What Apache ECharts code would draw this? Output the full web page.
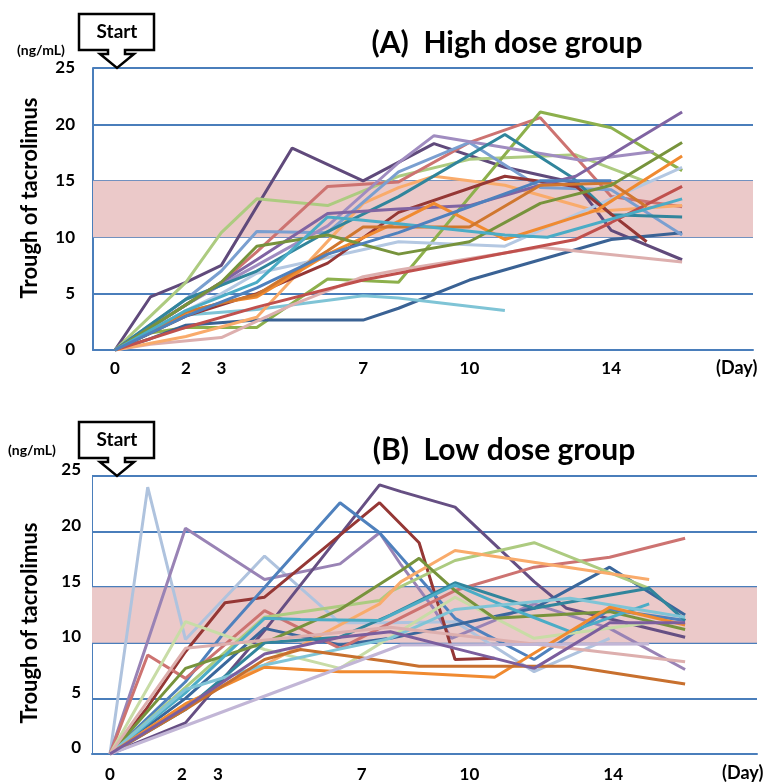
<!DOCTYPE html>
<html>
<head>
<meta charset="utf-8">
<title>Trough of tacrolimus</title>
<script src="https://cdn.jsdelivr.net/npm/echarts/dist/echarts.min.js"></script>
<style>
  html, body { margin: 0; padding: 0; background: #fff; }
  #main { width: 764px; height: 783px; }
</style>
</head>
<body>
<div id="main"></div>
<script>
// 刻度
var dayTicks = [0, 2, 3, 7, 10, 14];
var yTicks = [0, 5, 10, 15, 20, 25];
var targetRange = [10, 15];   // 目标范围

// (A) 高剂量组  [day, ng/mL]
var hi01 = [[0,0],[1,4.7],[2,6.0],[3,7.5],[5,17.9],[7,15.0],[9,18.3],[11,16.2],[13,14.8],[14,10.6],[16,8.0]];
var hi02 = [[0,0],[1,3.0],[2,6.0],[3,10.4],[4,13.4],[6,12.8],[8,15.4],[10,16.9],[13,17.3],[15,14.9]];
var hi03 = [[0,0],[2,4.0],[3,6.0],[4,8.7],[6,14.5],[8,14.9],[10,18.4],[12,20.6],[14,13.6],[16,12.7]];
var hi04 = [[0,0],[1,1.5],[2,2.0],[4,2.0],[6,6.3],[8,6.0],[12,21.1],[14,19.7],[16,15.9]];
var hi05 = [[0,0],[1,1.0],[2,2.2],[4,2.65],[7,2.65],[8,3.7],[10,6.2],[14,9.8],[16,10.4]];
var hi06 = [[0,0],[1,2.0],[2,3.1],[4,3.6],[7,4.8],[8,4.6],[11,3.5]];
var hi07 = [[0,0],[1,0.5],[3,1.1],[5,4.0],[7,6.5],[8,7.1],[12,9.1],[16,7.8]];
var hi08 = [[0,0],[2,1.2],[4,2.9],[7,13.0],[8,14.4],[9,15.4],[11,14.6],[13.6,12.3],[16,12.8]];
var hi09 = [[0,0],[2,3.5],[3,5.0],[4,6.8],[6,8.2],[8,9.6],[11,9.2],[16,16.2]];
var hi10 = [[0,0],[2,4.5],[3,7.0],[4,10.5],[6,10.4],[8,15.8],[10,18.4],[12,14.4],[14,14.2],[16,10.2]];
var hi11 = [[0,0],[2,4.0],[3,5.8],[4,7.5],[6,11.0],[8,16.6],[9,19.0],[13.2,16.8],[15.2,17.6]];
var hi12 = [[0,0],[2,4.5],[4,7.0],[6,10.5],[8,13.6],[11,19.1],[12.9,15.3],[14,12.0],[16,11.8]];
var hi13 = [[0,0],[2,3.0],[4,5.0],[6,7.7],[8,12.2],[11,15.4],[13,14.5],[15,9.6]];
var hi14 = [[0,0],[2,2.0],[4,3.8],[7,6.2],[8,6.8],[13,9.8],[14,11.3],[16,14.5]];
var hi15 = [[0,0],[2,4.0],[3,6.0],[4,8.0],[6,12.1],[8,12.5],[10,12.8],[12,14.6],[13,15.4],[16,21.1]];
var hi16 = [[0,0],[2,3.3],[3,4.2],[4,4.7],[6,8.5],[8,11.4],[9,13.0],[11,9.8],[13.6,12.4],[16,17.2]];
var hi17 = [[0,0],[2,3.4],[4,4.9],[6,8.8],[7,10.9],[10,10.9],[12,14.6],[14,14.8],[15,12.7]];
var hi18 = [[0,0],[2,4.0],[3,6.0],[4,9.2],[6,10.2],[8,8.5],[10,9.6],[12,13.0],[14,14.6],[16,18.4]];
var hi19 = [[0,0],[2,3.5],[4,6.0],[6,11.8],[7,11.5],[8,11.2],[11,10.2],[12.2,10.0],[16,13.4]];
var hi20 = [[0,0],[2,3.0],[4,5.5],[6,8.5],[8,10.4],[10,12.7],[12,15.0],[14,15.0]];

// (B) 低剂量组
var lo01 = [[0,0],[1.05,24.0],[2.1,10.3],[4.3,17.8],[6.4,11.8],[7.8,11.8],[9.6,11.9],[11.8,7.4],[13.9,10.4]];
var lo02 = [[0,0],[2.1,20.3],[4.3,15.7],[6.4,17.1],[7.5,19.9],[8.1,17.0],[9,13.1],[9.5,10.4],[11.8,13.5],[13.9,11.3],[16,7.6]];
var lo03 = [[0,0],[2.1,2.8],[4.3,11.1],[7.5,24.2],[8.1,23.6],[9.6,22.2],[11.8,15.5],[12.7,13.1],[16,10.5]];
var lo04 = [[0,0],[1,4.0],[2.1,9.2],[3.2,13.6],[4.3,14.1],[7.5,22.6],[8.6,19.0],[9.6,8.5],[10.7,8.6]];
var lo05 = [[0,0],[2.1,6.5],[3.2,11.0],[6.4,22.6],[7.5,19.9],[9.6,12.2],[11.8,8.5],[13.9,13.0],[16,12.0]];
var lo06 = [[0,0],[2.1,5.0],[4.3,11.3],[6.4,9.8],[7.8,10.4],[11.8,13.1],[13.9,16.8],[16,12.5]];
var lo07 = [[0,0],[1.05,8.9],[2.1,6.8],[4.3,12.9],[6.4,9.5],[7.5,11.3],[9.6,14.7],[11.8,16.8],[13.9,17.7],[16,19.4]];
var lo08 = [[0,0],[2.1,11.9],[4.3,9.4],[6.4,7.7],[7.8,10.5],[9.6,14.1],[11.8,10.4],[15,11.8]];
var lo09 = [[0,0],[2.1,6.0],[4.3,12.3],[7.5,13.8],[7.8,14.6],[9.6,17.4],[11.8,19.0],[15,14.9]];
var lo10 = [[0,0],[2.1,4.5],[4.3,8.0],[7.5,13.5],[8.1,15.5],[9.6,18.3],[15,15.7]];
var lo11 = [[0,0],[2.1,7.7],[4.3,10.0],[6.4,13.0],[8.1,16.5],[8.6,17.6],[9.6,14.7],[10.7,12.2],[13.9,12.8],[16,11.2]];
var lo12 = [[0,0],[2.1,4.0],[4.3,10.0],[6.4,10.5],[7.8,12.5],[9.6,15.4],[11.8,13.1],[15,14.9],[16,12.0]];
var lo13 = [[0,0],[2.1,5.5],[4.3,12.2],[5.3,12.1],[7.5,12.0],[9.6,15.2],[10.9,13.4],[12.8,11.0],[15,13.5]];
var lo14 = [[0,0],[2.1,5.8],[4.3,8.0],[7.8,10.4],[9.6,13.0],[12.8,14.0],[16,12.3]];
var lo15 = [[0,0],[2.1,4.5],[4.3,7.8],[6.4,7.4],[7.8,7.4],[10.7,6.9],[13.9,13.2],[16,11.6]];
var lo16 = [[0,0],[2.1,4.0],[4.3,8.5],[5.3,9.4],[7.8,8.3],[8.6,7.9],[12.8,7.9],[16,6.3]];
var lo17 = [[0,0],[2.1,9.5],[7.8,11.4],[16,8.3]];
var lo18 = [[0,0],[8.1,9.8],[15,9.9]];
var lo19 = [[0,0],[2.1,4.2],[4.3,9.0],[6.4,10.5],[7.8,11.0],[9.6,9.5],[11.8,7.7],[13.9,11.8],[16,11.8]];

var highGroup = [hi01,hi02,hi03,hi04,hi05,hi06,hi07,hi08,hi09,hi10,hi11,hi12,hi13,hi14,hi15,hi16,hi17,hi18,hi19,hi20];
var highColors = ['#604A7B','#ADCB80','#CD7371','#8DB04C','#3A6294','#7FC4D6','#DDAFAE','#F9AB6B','#B4C8E2','#7A9FD0',
                  '#A08CC0','#31859C','#953735','#C0504D','#8064A2','#F08A30','#D0772F','#77933C','#4BACC6','#4F81BD'];
var lowGroup = [lo01,lo02,lo03,lo04,lo05,lo06,lo07,lo08,lo09,lo10,lo11,lo12,lo13,lo14,lo15,lo16,lo17,lo18,lo19];
var lowColors = ['#AFC3DE','#9983B5','#664F83','#953735','#4F81BD','#3A679C','#CD7371','#C8DCA6','#ADCB80','#F9AB6B',
                 '#77933C','#31859C','#4BACC6','#7FC4D6','#F08A30','#C8702E','#DDAFAE','#C2B6D6','#7B5E9E'];

var gridColor = '#4A7EBB';
var labelFont = 'Lato, "Open Sans", sans-serif';

var chart = echarts.init(document.getElementById('main'));

function xAxisOf(idx, min, margin) {
    return {
        type: 'value', gridIndex: idx, min: min, max: 18,
        axisLine: { show: true, onZero: false, lineStyle: { color: gridColor, width: 2 } },
        axisTick: { show: false },
        splitLine: { show: false },
        axisLabel: {
            customValues: dayTicks, margin: margin,
            color: '#000', fontWeight: 'bold', fontSize: 17, fontFamily: labelFont
        }
    };
}
function yAxisOf(idx, margin, lineW, shiftUp) {
    var lbl = {
        margin: margin,
        color: '#000', fontWeight: 'bold', fontSize: 17, fontFamily: labelFont,
        formatter: function (v) { return yTicks.indexOf(v) >= 0 ? String(v) : ''; }
    };
    if (shiftUp) { lbl.verticalAlign = 'bottom'; lbl.lineHeight = shiftUp; }
    return {
        type: 'value', gridIndex: idx, min: 0, max: 25, interval: 5,
        axisLine: { show: true, onZero: false, lineStyle: { color: gridColor, width: lineW } },
        axisTick: { show: false },
        splitLine: { show: true, lineStyle: { color: gridColor, width: 2 } },
        axisLabel: lbl
    };
}

var series = [];
[0, 1].forEach(function (g) {
    series.push({
        type: 'line', xAxisIndex: g, yAxisIndex: g, data: [], z: 1, silent: true,
        markArea: {
            silent: true,
            itemStyle: { color: '#EBC9C9' },
            data: [[{ yAxis: targetRange[0] }, { yAxis: targetRange[1] }]]
        }
    });
});
highGroup.forEach(function (d, i) {
    series.push({
        type: 'line', xAxisIndex: 0, yAxisIndex: 0, data: d, z: 3,
        symbol: 'none', silent: true,
        lineStyle: { width: 3, color: highColors[i] }, itemStyle: { color: highColors[i] }
    });
});
lowGroup.forEach(function (d, i) {
    series.push({
        type: 'line', xAxisIndex: 1, yAxisIndex: 1, data: d, z: 3,
        symbol: 'none', silent: true,
        lineStyle: { width: 3, color: lowColors[i] }, itemStyle: { color: lowColors[i] }
    });
});

function startBox(top) {
    var b = top + 36;
    return [
        {
            type: 'polygon', z: 10,
            shape: { points: [[79, top], [154, top], [154, b], [125, b], [125, b + 4], [134, b + 4],
                              [117, b + 18], [100, b + 4], [108, b + 4], [108, b], [79, b]] },
            style: { fill: '#fff', stroke: '#000', lineWidth: 2.5 }
        },
        {
            type: 'text', z: 11, x: 117, y: top + 18,
            style: { text: 'Start', fill: '#000', font: 'bold 19px ' + labelFont, align: 'center', verticalAlign: 'middle' }
        }
    ];
}
function txt(x, y, s, size, align, rot) {
    return {
        type: 'text', x: x, y: y, rotation: rot || 0, z: 10,
        style: { text: s, fill: '#000', font: 'bold ' + size + 'px ' + labelFont,
                 align: align || 'left', verticalAlign: 'middle' }
    };
}

var option = {
    animation: false,
    backgroundColor: '#fff',
    grid: [
        { left: 93, top: 68, width: 660, height: 282 },
        { left: 92, top: 476, width: 665, height: 278 }
    ],
    xAxis: [xAxisOf(0, -0.62, 10), xAxisOf(1, -0.5, 12)],
    yAxis: [yAxisOf(0, 18, 2, 0), yAxisOf(1, 11, 1, 12)],
    graphic: [].concat(
        startBox(14), startBox(422),
        [
            txt(507, 43, '(A)  High dose group', 30, 'center'),
            txt(504, 450, '(B)  Low dose group', 30, 'center'),
            txt(17, 50, '(ng/mL)', 14),
            txt(8, 450, '(ng/mL)', 14),
            txt(716, 368, '(Day)', 18),
            txt(722, 773, '(Day)', 18),
            txt(30, 198, 'Trough of tacrolimus', 22, 'center', Math.PI / 2),
            txt(30, 623, 'Trough of tacrolimus', 22, 'center', Math.PI / 2)
        ]
    ),
    series: series
};
chart.setOption(option);
</script>
</body>
</html>
